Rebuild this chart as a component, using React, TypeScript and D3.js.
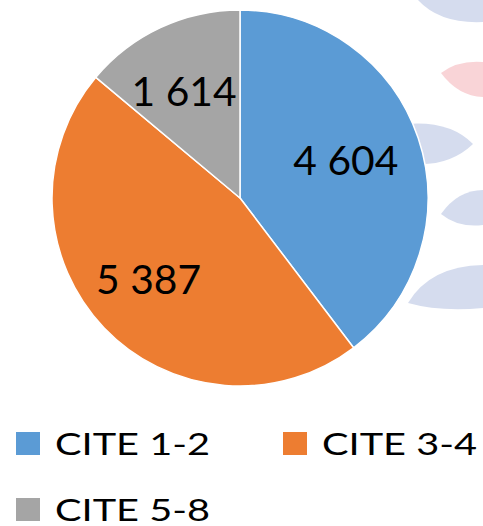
import React from "react";
import * as d3 from "d3";

const categories = ["CITE 1-2", "CITE 3-4", "CITE 5-8"];
const values = [4604, 5387, 1614];
const colors = ["#5b9bd5", "#ed7d31", "#a5a5a5"];

const W = 483;
const H = 526;
const cx = 240;
const cy = 198;
const R = 188;
const FONT = "Lato, 'Open Sans', sans-serif";

const fmt = (v: number) => d3.format(",")(v).replace(/,/g, " ");

export default function App() {
  const pie = d3.pie<number>().sort(null).value((d) => d)(values);
  const arc = d3.arc<d3.PieArcDatum<number>>().innerRadius(0).outerRadius(R);
  const labelArc = d3
    .arc<d3.PieArcDatum<number>>()
    .innerRadius(118)
    .outerRadius(118);

  const leavesBlue = [
    "M418,0 Q440,24 483,22 L483,0 Z",
    "M405,124 Q450,120 473,144 Q450,166 415,164 Z",
    "M441,214 Q458,190 483,190 L483,225 Q458,228 441,214 Z",
    "M408,303 Q430,266 483,265 L483,308 Q440,312 408,303 Z",
  ];
  const leafPink = "M441,73 Q458,60 483,62 L483,97 Q458,96 441,73 Z";

  return (
    <svg
      width={W}
      height={H}
      style={{ position: "absolute", left: 0, top: 0, background: "#fff" }}
    >
      {leavesBlue.map((d, i) => (
        <path key={i} d={d} fill="#d5dcee" />
      ))}
      <path d={leafPink} fill="#f9d4d7" />
      <g transform={`translate(${cx},${cy})`}>
        {pie.map((p, i) => (
          <path
            key={i}
            d={arc(p) || ""}
            fill={colors[i]}
            stroke="#fff"
            strokeWidth={1.5}
            strokeLinejoin="round"
          />
        ))}
        {pie.map((p, i) => {
          const [x, y] = labelArc.centroid(p);
          return (
            <text
              key={i}
              x={x - 6}
              y={y}
              dy="0.36em"
              textAnchor="middle"
              fontFamily={FONT}
              fontSize={40}
              textLength={105}
              lengthAdjust="spacingAndGlyphs"
              fill="#000"
            >
              {fmt(values[i])}
            </text>
          );
        })}
      </g>
      {categories.map((c, i) => {
        const col = i % 2;
        const row = Math.floor(i / 2);
        const x = 16 + col * 267;
        const y = 432 + row * 66;
        return (
          <g key={c}>
            <rect x={x} y={y} width={24} height={23} fill={colors[i]} />
            <text
              x={x + 39}
              y={y + 23}
              fontFamily={FONT}
              fontSize={31}
              textLength={155}
              lengthAdjust="spacingAndGlyphs"
              fill="#000"
            >
              {c}
            </text>
          </g>
        );
      })}
    </svg>
  );
}
